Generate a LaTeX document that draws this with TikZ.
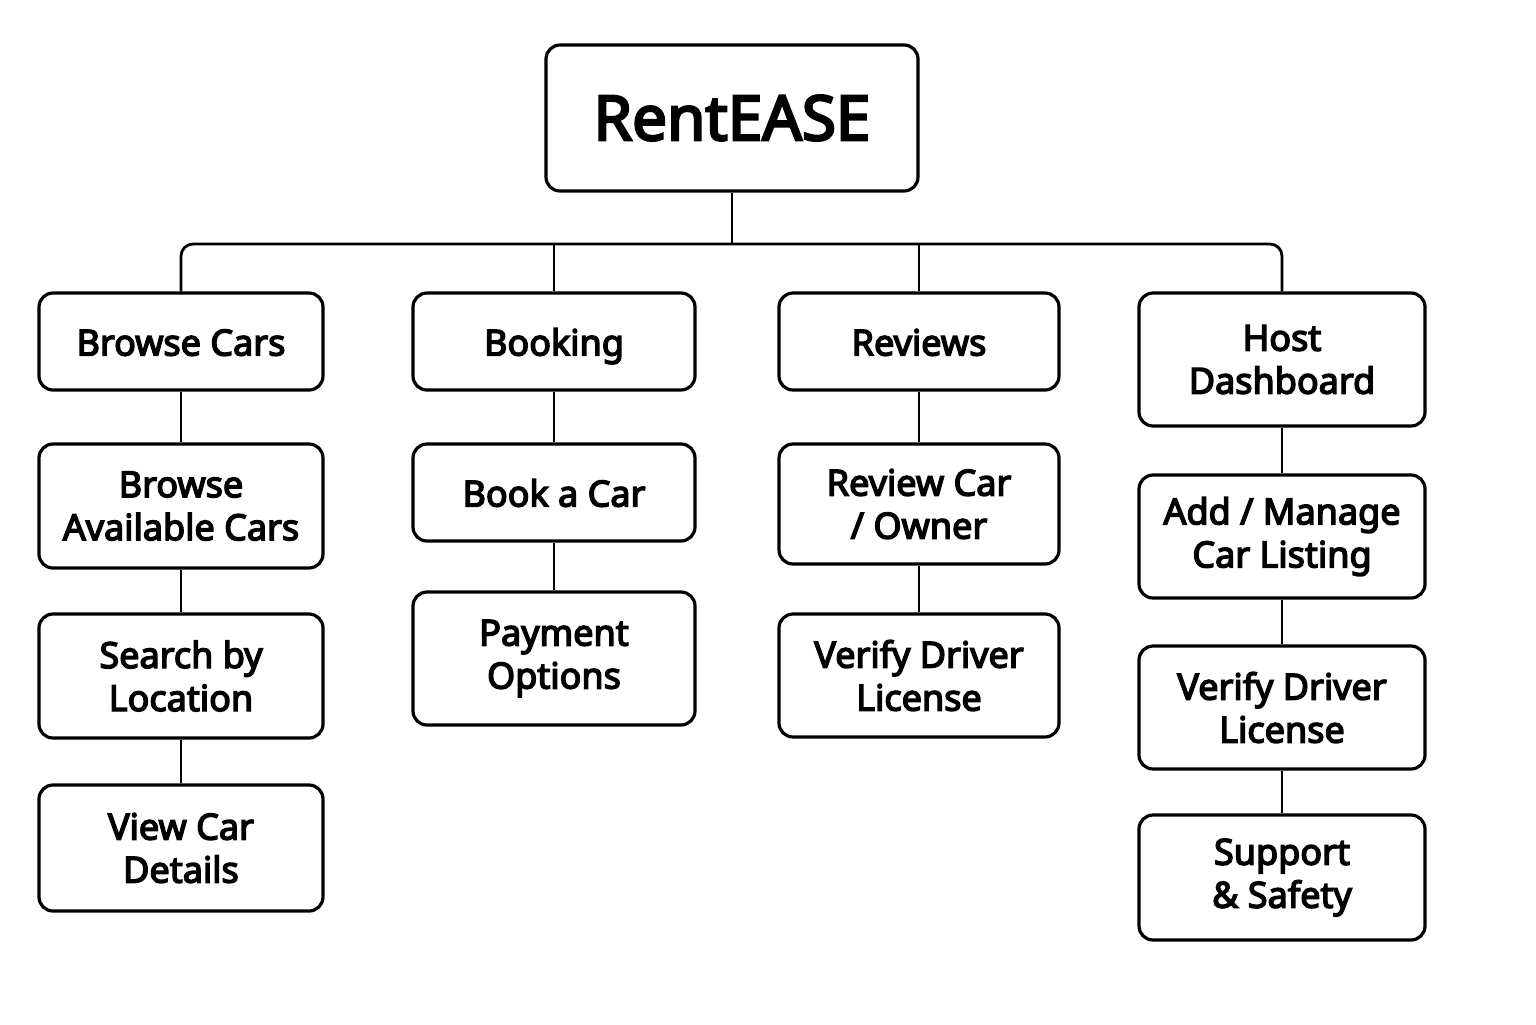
\documentclass[tikz,border=0pt]{standalone}
\usepackage{fontspec}
\setmainfont[FakeBold=4]{Noto Sans}

\begin{document}
\begin{tikzpicture}[x=0.5pt, y=-0.5pt,
    box/.style={draw=black, line width=1.6pt, rounded corners=7pt, align=center,
        inner sep=0pt, font=\fontsize{18}{21.5}\selectfont},
    oneline/.style={text height=14pt, text depth=0pt},
    link/.style={black, line width=1.4pt}]
            \useasboundingbox (0,0) rectangle (1536,1024);
            \fill[white] (0,0) rectangle (1536,1024);

            \node[box, minimum width=186pt, minimum height=73pt, font=\fontsize{31}{36}\selectfont] (root) at (732,118) {RentEASE};

            \node[box, oneline, minimum width=142pt, minimum height=48.5pt] (bc) at (181,341.5) {Browse Cars};
            \node[box, minimum width=142pt, minimum height=62pt] (bac) at (181,506) {Browse\\Available Cars};
            \node[box, minimum width=142pt, minimum height=62pt] (sbl) at (181,676) {Search by\\Location};
            \node[box, minimum width=142pt, minimum height=63pt] (vcd) at (181,848) {View Car\\Details};

            \node[box, oneline, minimum width=141pt, minimum height=48.5pt] (bk) at (554,341.5) {Booking};
            \node[box, oneline, minimum width=141pt, minimum height=48.5pt] (bac2) at (554,492.5) {Book a Car};
            \node[box, minimum width=141pt, minimum height=66.5pt] (po) at (554,658.5) {Payment\\Options};

            \node[box, oneline, minimum width=140pt, minimum height=48.5pt] (rv) at (919,341.5) {Reviews};
            \node[box, minimum width=140pt, minimum height=60pt] (rco) at (919,504) {Review Car\\/ Owner};
            \node[box, minimum width=140pt, minimum height=61.5pt] (vdl) at (919,675.5) {Verify Driver\\License};

            \node[box, minimum width=143pt, minimum height=66.5pt] (hd) at (1282,359.5) {Host\\Dashboard};
            \node[box, minimum width=143pt, minimum height=61.5pt] (amc) at (1282,536.5) {Add / Manage\\Car Listing};
            \node[box, minimum width=143pt, minimum height=61.5pt] (vdl2) at (1282,707.5) {Verify Driver\\License};
            \node[box, minimum width=143pt, minimum height=62.5pt] (ss) at (1282,877.5) {Support\\\& Safety};

            \coordinate (bus) at (732,244);
            \draw[link] (root.south) -- (bus);
            \draw[link, rounded corners=6pt] (bc.north) -- (bc.north |- bus) -- (hd.north |- bus) -- (hd.north);
            \draw[link] (bk.north) -- (bk.north |- bus);
            \draw[link] (rv.north) -- (rv.north |- bus);

            \draw[link] (bc.south) -- (bac.north);
            \draw[link] (bac.south) -- (sbl.north);
            \draw[link] (sbl.south) -- (vcd.north);
            \draw[link] (bk.south) -- (bac2.north);
            \draw[link] (bac2.south) -- (po.north);
            \draw[link] (rv.south) -- (rco.north);
            \draw[link] (rco.south) -- (vdl.north);
            \draw[link] (hd.south) -- (amc.north);
            \draw[link] (amc.south) -- (vdl2.north);
            \draw[link] (vdl2.south) -- (ss.north);
        \end{tikzpicture}
\end{document}
